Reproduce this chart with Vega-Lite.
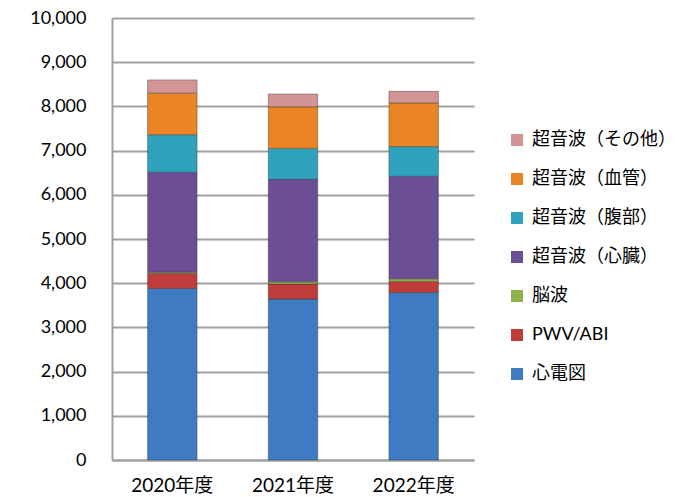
{
  "$schema": "https://vega.github.io/schema/vega-lite/v6.json",
  "width": 362,
  "height": 442,
  "autosize": "none",
  "padding": {"left": 112, "top": 18, "right": 217, "bottom": 37},
  "background": "white",
  "config": {
    "font": "Lato, Noto Sans CJK JP",
    "view": {"stroke": null}
  },
  "data": {
    "values": [
      {"year": "2020年度", "type": "心電図", "ord": 1, "count": 3880},
      {"year": "2020年度", "type": "PWV/ABI", "ord": 2, "count": 340},
      {"year": "2020年度", "type": "脳波", "ord": 3, "count": 30},
      {"year": "2020年度", "type": "超音波（心臓）", "ord": 4, "count": 2260},
      {"year": "2020年度", "type": "超音波（腹部）", "ord": 5, "count": 850},
      {"year": "2020年度", "type": "超音波（血管）", "ord": 6, "count": 940},
      {"year": "2020年度", "type": "超音波（その他）", "ord": 7, "count": 300},
      {"year": "2021年度", "type": "心電図", "ord": 1, "count": 3640},
      {"year": "2021年度", "type": "PWV/ABI", "ord": 2, "count": 340},
      {"year": "2021年度", "type": "脳波", "ord": 3, "count": 50},
      {"year": "2021年度", "type": "超音波（心臓）", "ord": 4, "count": 2320},
      {"year": "2021年度", "type": "超音波（腹部）", "ord": 5, "count": 700},
      {"year": "2021年度", "type": "超音波（血管）", "ord": 6, "count": 940},
      {"year": "2021年度", "type": "超音波（その他）", "ord": 7, "count": 290},
      {"year": "2022年度", "type": "心電図", "ord": 1, "count": 3790},
      {"year": "2022年度", "type": "PWV/ABI", "ord": 2, "count": 250},
      {"year": "2022年度", "type": "脳波", "ord": 3, "count": 60},
      {"year": "2022年度", "type": "超音波（心臓）", "ord": 4, "count": 2320},
      {"year": "2022年度", "type": "超音波（腹部）", "ord": 5, "count": 670},
      {"year": "2022年度", "type": "超音波（血管）", "ord": 6, "count": 990},
      {"year": "2022年度", "type": "超音波（その他）", "ord": 7, "count": 260}
    ]
  },
  "mark": {"type": "bar", "stroke": "#333333", "strokeOpacity": 0.4, "strokeWidth": 1},
  "encoding": {
    "x": {
      "field": "year",
      "type": "nominal",
      "sort": null,
      "scale": {"paddingInner": 0.59, "paddingOuter": 0.295},
      "axis": {
        "title": null,
        "labelAngle": 0,
        "labelFontSize": 19,
        "labelColor": "#000000",
        "labelPadding": 16,
        "ticks": false,
        "domainColor": "#a0a0a0",
        "domainWidth": 2
      }
    },
    "y": {
      "field": "count",
      "type": "quantitative",
      "stack": "zero",
      "scale": {"domain": [0, 10000]},
      "axis": {
        "title": null,
        "values": [0, 1000, 2000, 3000, 4000, 5000, 6000, 7000, 8000, 9000, 10000],
        "format": ",d",
        "labelFontSize": 18,
        "labelColor": "#000000",
        "labelPadding": 26,
        "ticks": false,
        "domainColor": "#a0a0a0",
        "domainWidth": 2,
        "gridColor": "#a0a0a0",
        "gridWidth": 2
      }
    },
    "order": {"field": "ord", "type": "quantitative", "sort": "ascending"},
    "color": {
      "field": "type",
      "type": "nominal",
      "scale": {
        "domain": ["超音波（その他）", "超音波（血管）", "超音波（腹部）", "超音波（心臓）", "脳波", "PWV/ABI", "心電図"],
        "range": ["#d29494", "#ea8424", "#2ea3bb", "#6b4e95", "#8fb24a", "#c03c3a", "#3f7bc3"]
      },
      "legend": {
        "title": null,
        "orient": "none",
        "legendX": 396,
        "legendY": 113,
        "symbolType": "square",
        "symbolSize": 144,
        "symbolStrokeWidth": 0,
        "labelFontSize": 18,
        "labelColor": "#000000",
        "rowPadding": 21,
        "labelOffset": 6
      }
    }
  }
}
